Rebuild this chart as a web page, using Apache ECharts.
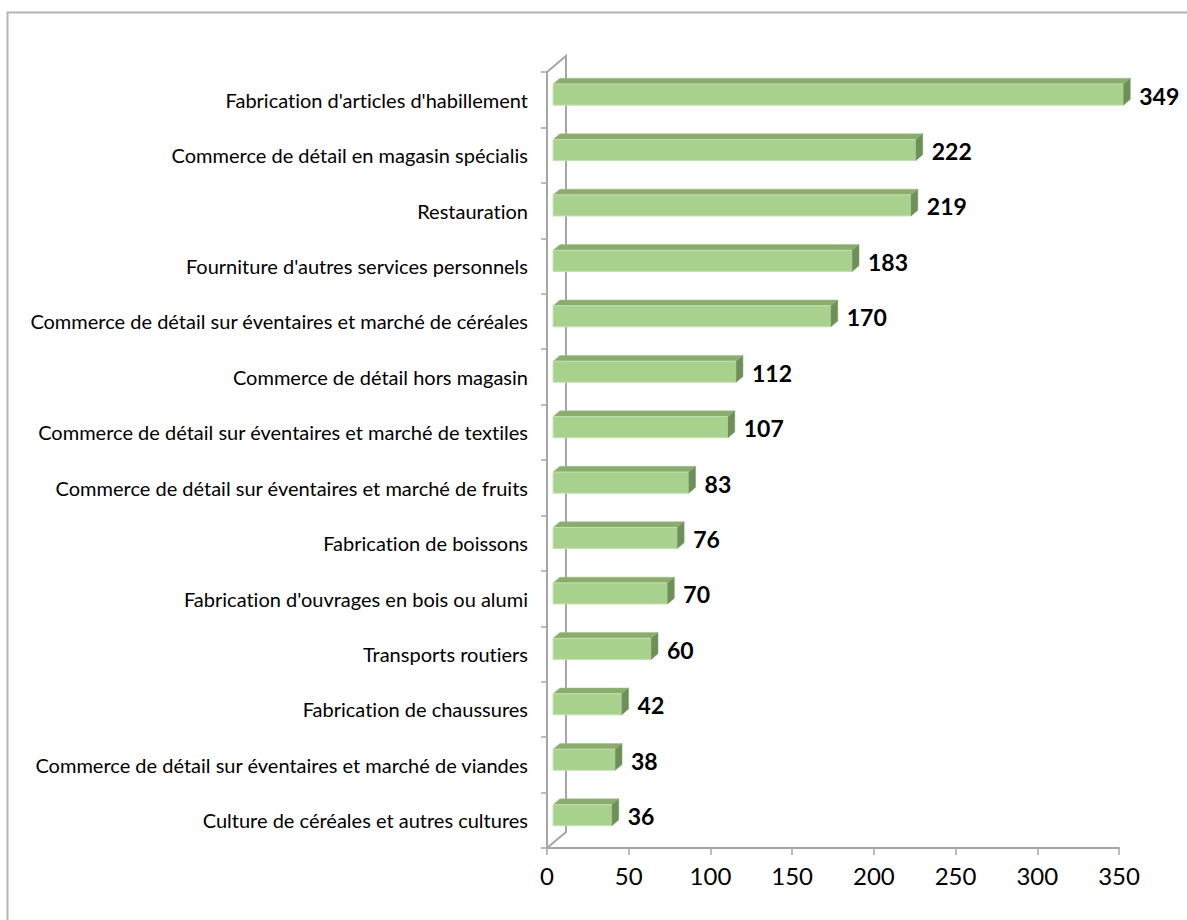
<!DOCTYPE html>
<html>
<head>
<meta charset="utf-8">
<script src="https://cdn.jsdelivr.net/npm/echarts@6/dist/echarts.min.js"></script>
<style>
  html, body { margin: 0; padding: 0; background: #ffffff; }
  #chart { width: 1187px; height: 920px; }
  #chart text { font-variant-ligatures: none; font-feature-settings: "liga" 0, "dlig" 0; }
</style>
</head>
<body>
<div id="chart"></div>
<script>
// Activités (top to bottom) and their counts
const categories = [
  "Fabrication d'articles d'habillement",
  "Commerce de détail en magasin spécialis",
  "Restauration",
  "Fourniture d'autres services personnels",
  "Commerce de détail sur éventaires et marché de céréales",
  "Commerce de détail hors magasin",
  "Commerce de détail sur éventaires et marché de textiles",
  "Commerce de détail sur éventaires et marché de fruits",
  "Fabrication de boissons",
  "Fabrication d'ouvrages en bois ou alumi",
  "Transports routiers",
  "Fabrication de chaussures",
  "Commerce de détail sur éventaires et marché de viandes",
  "Culture de céréales et autres cultures"
];
const values = [349, 222, 219, 183, 170, 112, 107, 83, 76, 70, 60, 42, 38, 36];
const xTicks = { min: 0, max: 350, interval: 50 };

const FONT = 'Lato, "Open Sans", sans-serif';
const AXIS_GRAY = '#a6a6a6';

// 3D depth of the wall, in pixels (x to the right, y upward)
const WALL_DX = 19, WALL_DY = -16;
// bars sit between these fractions of the depth
const BAR_FRONT = 0.32, BAR_BACK = 0.68;
const BAR_THICK = 0.38; // share of the category band

const FRONT = '#a9d18e', TOP = '#8aad6f', SIDE = '#6f8f58';

const chart = echarts.init(document.getElementById('chart'), null, { renderer: 'svg' });

function renderBar(params, api) {
  const idx = api.value(0);
  const val = api.value(1);
  const p0 = api.coord([0, idx]);
  const p1 = api.coord([val, idx]);
  const band = api.size([0, 1])[1];
  const ox = WALL_DX * BAR_FRONT, oy = WALL_DY * BAR_FRONT;
  const dx = WALL_DX * (BAR_BACK - BAR_FRONT), dy = WALL_DY * (BAR_BACK - BAR_FRONT);
  const h = band * BAR_THICK;
  const x0 = p0[0] + ox, x1 = p1[0] + ox;
  const yc = p0[1] + oy;
  const yt = yc - h / 2, yb = yc + h / 2;
  return {
    type: 'group',
    children: [
      { type: 'polygon', shape: { points: [[x0, yt], [x1, yt], [x1 + dx, yt + dy], [x0 + dx, yt + dy]] },
        style: { fill: TOP, stroke: '#9dbf82', lineWidth: 0.5 } },
      { type: 'rect', shape: { x: x0, y: yt, width: x1 - x0, height: h },
        style: { fill: FRONT, stroke: '#c4e0b0', lineWidth: 1 } },
      { type: 'polygon', shape: { points: [[x1, yt], [x1 + dx, yt + dy], [x1 + dx, yb + dy], [x1, yb]] },
        style: { fill: SIDE, stroke: '#7f9f68', lineWidth: 0.5 } },
      { type: 'text', style: { text: String(val), x: x1 + dx + 9, y: yc + 1,
        fill: '#000', font: 'bold 23px ' + FONT, textAlign: 'left', textVerticalAlign: 'middle' } }
    ]
  };
}

const option = {
  animation: false,
  backgroundColor: '#ffffff',
  grid: { left: 547, top: 72, width: 572, height: 776, containLabel: false },
  xAxis: {
    type: 'value', min: xTicks.min, max: xTicks.max, interval: xTicks.interval,
    axisLine: { show: true, lineStyle: { color: AXIS_GRAY, width: 2 } },
    axisTick: { show: true, length: 7, lineStyle: { color: AXIS_GRAY, width: 1.5 } },
    axisLabel: { fontFamily: FONT, fontSize: 24, color: '#000', margin: 15 },
    splitLine: { show: false }
  },
  yAxis: {
    type: 'category', data: categories, inverse: true,
    axisLine: { show: true, lineStyle: { color: AXIS_GRAY, width: 2 } },
    axisTick: { show: true, length: 6, lineStyle: { color: AXIS_GRAY, width: 1.5 } },
    axisLabel: { fontFamily: FONT, fontSize: 20, color: '#000', margin: 19, padding: [0, 0, 4, 0] }
  },
  series: [{
    type: 'custom',
    renderItem: renderBar,
    encode: { x: 1, y: 0 },
    data: values.map((v, i) => [i, v])
  }]
};
chart.setOption(option);

// frame, back wall and its connecting edges, placed from the axes' own scales
const gridTop = 72, gridBottom = 72 + 776;
const ax = chart.convertToPixel({ xAxisIndex: 0 }, 0);
const wall = { stroke: AXIS_GRAY, lineWidth: 2 };
chart.setOption({
  graphic: [
    { type: 'rect', shape: { x: 7.5, y: 12.5, width: 1300, height: 1000 },
      style: { fill: 'none', stroke: '#b4b4b4', lineWidth: 2 }, z: -1 },
    { type: 'polyline', shape: { points: [[ax, gridTop], [ax + WALL_DX, gridTop + WALL_DY], [ax + WALL_DX, gridBottom + WALL_DY], [ax, gridBottom]] },
      style: Object.assign({ fill: 'none' }, wall), z: 1 }
  ]
});
</script>
</body>
</html>
